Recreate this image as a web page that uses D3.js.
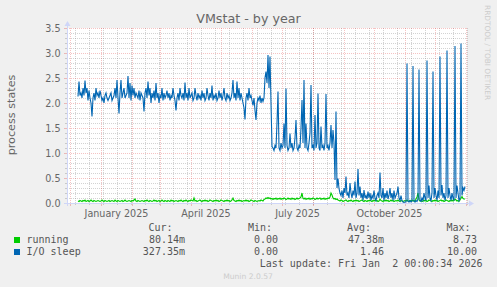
<!DOCTYPE html>
<html>
<head>
<meta charset="utf-8">
<script src="https://cdn.jsdelivr.net/npm/d3@7"></script>
<style>
body { margin: 0; background: #f0f0f0; }
svg { display: block; }
</style>
</head>
<body>
<svg width="497" height="287"></svg>
<script>
// daily values, first one on 9 Dec 2024
var firstDay = new Date(2024, 11, 9);

var ioSleep = [
  2.13, 2.43, 2.15, 2.20, 2.10, 2.30, 2.15, 2.45, 2.20, 2.30,
  2.05, 2.25, 2.10, 2.00, 1.73, 2.10, 2.20, 2.05, 2.30, 2.15,
  2.20, 2.10, 2.25, 2.15, 2.05, 2.10, 2.00, 2.15, 2.20, 2.10,
  2.05, 2.10, 2.15, 2.20, 2.05, 2.10, 2.15, 2.30, 2.10, 2.46,
  2.10, 1.79, 2.20, 2.46, 2.10, 2.20, 2.30, 2.10, 2.15, 2.20,
  2.54, 2.10, 2.40, 2.05, 2.35, 2.15, 2.30, 2.10, 2.20, 2.15,
  2.10, 2.25, 2.05, 2.20, 2.15, 2.10, 1.83, 2.20, 2.30, 2.10,
  2.43, 2.15, 2.30, 2.00, 2.20, 2.10, 2.25, 2.05, 2.40, 2.10,
  2.20, 2.00, 2.15, 2.10, 2.30, 2.05, 2.20, 2.10, 2.15, 2.25,
  2.10, 2.20, 2.05, 2.15, 2.10, 2.30, 2.15, 2.05, 1.85, 2.10,
  2.20, 2.05, 2.30, 2.15, 2.10, 2.20, 2.05, 2.41, 2.10, 2.20,
  2.05, 2.30, 2.10, 2.15, 2.20, 2.05, 2.10, 2.30, 2.15, 2.05,
  2.20, 2.10, 2.15, 2.05, 2.25, 2.10, 2.20, 2.05, 2.10, 2.30,
  2.15, 2.05, 2.20, 2.10, 2.35, 2.05, 2.15, 2.10, 2.20, 2.05,
  2.10, 2.25, 2.10, 2.20, 2.05, 2.15, 2.30, 2.10, 2.05, 2.20,
  2.10, 2.15, 2.05, 2.10, 2.20, 2.46, 2.10, 2.20, 2.05, 2.43,
  2.10, 2.30, 2.05, 2.20, 2.10, 2.00, 1.90, 1.67, 2.10, 2.20,
  2.05, 2.30, 2.10, 2.15, 2.05, 1.95, 2.10, 1.85, 1.66, 2.00,
  2.10, 2.05, 2.15, 2.00, 2.10, 2.03, 2.10, 2.50, 2.63, 2.40,
  2.96, 2.30, 2.93, 2.00, 1.13, 1.10, 1.05, 1.15, 1.10, 1.60,
  2.23, 1.10, 1.05, 1.20, 1.10, 1.15, 1.59, 1.10, 2.29, 1.15,
  1.05, 1.10, 1.39, 1.10, 1.20, 1.05, 1.10, 1.30, 1.66, 1.10,
  1.05, 1.15, 1.10, 1.50, 2.06, 1.20, 2.46, 1.10, 1.59, 1.10,
  1.05, 1.20, 1.40, 2.36, 1.10, 1.15, 1.05, 1.76, 1.10, 1.20,
  2.19, 1.10, 1.05, 1.53, 1.10, 1.15, 1.05, 1.20, 2.18, 1.10,
  1.15, 1.05, 1.20, 1.56, 1.10, 1.46, 1.20, 0.46, 1.83, 0.30,
  0.49, 0.29, 0.20, 0.15, 0.25, 0.10, 0.30, 0.20, 0.53, 0.15,
  0.20, 0.10, 0.40, 0.20, 0.10, 0.25, 0.15, 0.43, 0.10, 0.20,
  0.68, 0.15, 0.33, 0.10, 0.20, 0.05, 0.26, 0.10, 0.15, 0.08,
  0.23, 0.10, 0.20, 0.05, 0.15, 0.10, 0.25, 0.10, 0.05, 0.15,
  0.20, 0.10, 0.61, 0.15, 0.10, 0.30, 0.05, 0.20, 0.10, 0.25,
  0.08, 0.15, 0.30, 0.10, 0.20, 0.05, 0.25, 0.10, 0.15, 0.20,
  0.33, 0.10, 0.05, 0.15, 0.05, 0.02, 0.01, 0.02, 0.02, 2.79,
  0.03, 0.02, 0.05, 0.02, 0.04, 2.74, 0.03, 0.02, 0.05, 0.03,
  0.08, 2.67, 0.05, 0.03, 0.10, 0.05, 0.20, 0.10, 0.05, 2.85,
  0.10, 0.35, 0.10, 0.05, 0.20, 2.63, 0.10, 0.30, 0.15, 0.05,
  0.25, 0.10, 2.93, 0.15, 0.36, 0.10, 0.20, 0.05, 0.15, 3.05,
  0.10, 0.30, 0.15, 0.05, 0.20, 0.10, 0.05, 3.14, 0.10, 0.35,
  0.20, 0.05, 0.10, 3.19, 0.15, 0.30, 0.25, 0.33
];

var running = [
  0.04, 0.03, 0.05, 0.04, 0.03, 0.05, 0.04, 0.06, 0.03, 0.04,
  0.05, 0.03, 0.04, 0.06, 0.04, 0.03, 0.05, 0.04, 0.03, 0.04,
  0.05, 0.04, 0.03, 0.04, 0.06, 0.04, 0.03, 0.05, 0.04, 0.03,
  0.04, 0.05, 0.03, 0.04, 0.05, 0.04, 0.03, 0.06, 0.04, 0.03,
  0.05, 0.04, 0.03, 0.04, 0.05, 0.03, 0.04, 0.06, 0.04, 0.03,
  0.04, 0.05, 0.04, 0.03, 0.05, 0.04, 0.06, 0.08, 0.04, 0.03,
  0.05, 0.04, 0.03, 0.04, 0.05, 0.04, 0.03, 0.05, 0.04, 0.06,
  0.04, 0.03, 0.05, 0.04, 0.03, 0.04, 0.06, 0.04, 0.05, 0.03,
  0.04, 0.05, 0.03, 0.04, 0.06, 0.04, 0.03, 0.05, 0.04, 0.03,
  0.05, 0.04, 0.03, 0.06, 0.04, 0.05, 0.03, 0.04, 0.05, 0.04,
  0.03, 0.05, 0.04, 0.06, 0.04, 0.03, 0.05, 0.04, 0.06, 0.04,
  0.03, 0.05, 0.04, 0.06, 0.05, 0.04, 0.10, 0.04, 0.05, 0.03,
  0.04, 0.05, 0.06, 0.04, 0.03, 0.05, 0.04, 0.06, 0.04, 0.05,
  0.03, 0.04, 0.06, 0.05, 0.04, 0.03, 0.05, 0.04, 0.06, 0.04,
  0.05, 0.03, 0.04, 0.06, 0.05, 0.04, 0.03, 0.05, 0.04, 0.06,
  0.04, 0.05, 0.03, 0.04, 0.06, 0.10, 0.05, 0.04, 0.03, 0.05,
  0.04, 0.06, 0.04, 0.05, 0.03, 0.04, 0.05, 0.04, 0.06, 0.04,
  0.05, 0.03, 0.04, 0.06, 0.05, 0.04, 0.03, 0.05, 0.04, 0.03,
  0.04, 0.05, 0.04, 0.06, 0.05, 0.04, 0.07, 0.08, 0.10, 0.09,
  0.11, 0.09, 0.10, 0.08, 0.09, 0.07, 0.09, 0.08, 0.10, 0.07,
  0.09, 0.08, 0.10, 0.07, 0.09, 0.08, 0.10, 0.09, 0.07, 0.08,
  0.10, 0.08, 0.09, 0.07, 0.10, 0.08, 0.09, 0.07, 0.08, 0.10,
  0.08, 0.09, 0.10, 0.12, 0.20, 0.09, 0.08, 0.10, 0.07, 0.09,
  0.08, 0.10, 0.07, 0.09, 0.08, 0.10, 0.09, 0.07, 0.08, 0.10,
  0.08, 0.09, 0.10, 0.07, 0.09, 0.08, 0.10, 0.07, 0.09, 0.08,
  0.10, 0.09, 0.12, 0.20, 0.16, 0.10, 0.08, 0.09, 0.07, 0.08,
  0.06, 0.05, 0.04, 0.06, 0.05, 0.03, 0.04, 0.05, 0.06, 0.04,
  0.03, 0.05, 0.04, 0.06, 0.04, 0.03, 0.05, 0.04, 0.06, 0.04,
  0.05, 0.03, 0.04, 0.05, 0.06, 0.04, 0.03, 0.05, 0.04, 0.03,
  0.05, 0.04, 0.06, 0.04, 0.03, 0.05, 0.04, 0.06, 0.04, 0.05,
  0.03, 0.04, 0.08, 0.05, 0.04, 0.03, 0.05, 0.04, 0.06, 0.04,
  0.05, 0.03, 0.04, 0.06, 0.04, 0.05, 0.03, 0.04, 0.05, 0.04,
  0.06, 0.04, 0.03, 0.05, 0.04, 0.03, 0.04, 0.05, 0.04, 0.06,
  0.04, 0.03, 0.05, 0.04, 0.06, 0.04, 0.05, 0.03, 0.08, 0.12,
  0.20, 0.06, 0.04, 0.05, 0.03, 0.04, 0.06, 0.04, 0.05, 0.03,
  0.04, 0.06, 0.05, 0.04, 0.03, 0.05, 0.04, 0.06, 0.04, 0.05,
  0.03, 0.04, 0.05, 0.06, 0.04, 0.05, 0.03, 0.04, 0.06, 0.05,
  0.04, 0.03, 0.05, 0.04, 0.06, 0.04, 0.05, 0.08, 0.06, 0.04,
  0.05, 0.03, 0.06, 0.10, 0.13, 0.09, 0.08, 0.08
];

var yTicks = [0, 0.5, 1.0, 1.5, 2.0, 2.5, 3.0, 3.5];
var labelMonths = [new Date(2025, 0, 1), new Date(2025, 3, 1), new Date(2025, 6, 1), new Date(2025, 9, 1)];

var seriesNames = ["running", "I/O sleep"];
var seriesColors = ["#00cc00", "#0066b3"];
var curVals = ["80.14m", "327.35m"];
var minVals = ["0.00", "0.00"];
var avgVals = ["47.38m", "1.46"];
var maxVals = ["8.73", "10.00"];
var lastUpdate = "Last update: Fri Jan  2 00:00:34 2026";

var svg = d3.select("svg");
var plotL = 67, plotR = 467, plotT = 28, plotB = 203;

var x = d3.scaleTime()
  .domain([new Date(2024, 10, 28, 0, 0, 34), new Date(2026, 0, 2, 0, 0, 34)])
  .range([plotL, plotR]);
var y = d3.scaleLinear().domain([0, 3.5]).range([plotB, plotT]);

svg.append("rect").attr("width", 497).attr("height", 287).attr("fill", "#f0f0f0");
svg.append("rect").attr("x", plotL).attr("y", plotT).attr("width", plotR - plotL).attr("height", plotB - plotT).attr("fill", "#fff");

var grid = svg.append("g").attr("shape-rendering", "crispEdges");
var minorColor = "rgba(128,128,128,0.35)", majorColor = "rgba(220,40,40,0.28)";

// minor grid
d3.range(1, 36).filter(function(i) { return i % 5 != 0; }).forEach(function(i) {
  var yy = Math.round(y(i / 10)) + 0.5;
  grid.append("line").attr("x1", plotL).attr("x2", plotR).attr("y1", yy).attr("y2", yy)
    .attr("stroke", minorColor).attr("stroke-dasharray", "1,1");
  grid.append("line").attr("x1", plotL - 2).attr("x2", plotL).attr("y1", yy).attr("y2", yy).attr("stroke", minorColor);
});
d3.timeDay.range(new Date(2024, 11, 6), x.domain()[1], 14).forEach(function(d) {
  var xx = Math.round(x(d)) + 0.5;
  grid.append("line").attr("x1", xx).attr("x2", xx).attr("y1", plotT).attr("y2", plotB)
    .attr("stroke", minorColor).attr("stroke-dasharray", "1,1");
  grid.append("line").attr("x1", xx).attr("x2", xx).attr("y1", plotB).attr("y2", plotB + 2).attr("stroke", minorColor);
});

// major grid
yTicks.forEach(function(v) {
  var yy = Math.round(y(v)) + 0.5;
  grid.append("line").attr("x1", plotL).attr("x2", plotR).attr("y1", yy).attr("y2", yy)
    .attr("stroke", majorColor).attr("stroke-dasharray", "1,1");
  grid.append("line").attr("x1", plotL - 3).attr("x2", plotL).attr("y1", yy).attr("y2", yy).attr("stroke", majorColor);
});
d3.timeMonth.range(new Date(2024, 11, 1), x.domain()[1]).forEach(function(d) {
  var xx = Math.round(x(d)) + 0.5;
  grid.append("line").attr("x1", xx).attr("x2", xx).attr("y1", plotT).attr("y2", plotB)
    .attr("stroke", majorColor).attr("stroke-dasharray", "1,1");
  grid.append("line").attr("x1", xx).attr("x2", xx).attr("y1", plotB).attr("y2", plotB + 3).attr("stroke", majorColor);
});

// data
var line = d3.line()
  .x(function(d, i) { return x(d3.timeDay.offset(firstDay, i)); })
  .y(function(d) { return y(d); });

[running, ioSleep].forEach(function(vals, k) {
  svg.append("path").datum(vals).attr("d", line)
    .attr("fill", "none").attr("stroke", seriesColors[k]).attr("stroke-width", 1.1);
});

// axes with arrows
var axisColor = "#cfd6f8";
svg.append("line").attr("x1", plotL + 0.5).attr("x2", plotL + 0.5).attr("y1", plotB + 3).attr("y2", plotT - 3)
  .attr("stroke", axisColor).attr("shape-rendering", "crispEdges");
svg.append("line").attr("x1", plotL - 3).attr("x2", plotR + 3).attr("y1", plotB + 0.5).attr("y2", plotB + 0.5)
  .attr("stroke", axisColor).attr("shape-rendering", "crispEdges");
svg.append("path").attr("d", "M" + (plotL - 2.5) + "," + (plotT - 2) + "L" + (plotL + 3.5) + "," + (plotT - 2) + "L" + (plotL + 0.5) + "," + (plotT - 7) + "Z")
  .attr("fill", axisColor);
svg.append("path").attr("d", "M" + (plotR + 2) + "," + (plotB - 2.5) + "L" + (plotR + 2) + "," + (plotB + 3.5) + "L" + (plotR + 7) + "," + (plotB + 0.5) + "Z")
  .attr("fill", axisColor);

// text
var font = "DejaVu Sans, sans-serif", mono = "DejaVu Sans Mono, monospace";

svg.append("text").attr("x", 248.5).attr("y", 23).attr("text-anchor", "middle")
  .attr("font-family", font).attr("font-size", 12.7).attr("fill", "#666").text("VMstat - by year");

svg.append("text").attr("transform", "translate(15,115) rotate(-90)").attr("text-anchor", "middle")
  .attr("font-family", font).attr("font-size", 11.2).attr("fill", "#666").text("process states");

svg.append("text").attr("transform", "translate(484.5,5) rotate(90)")
  .attr("font-family", font).attr("font-size", 7.4).attr("fill", "#cccccc").text("RRDTOOL / TOBI OETIKER");

svg.selectAll(".ytick").data(yTicks).enter().append("text")
  .attr("x", 60.5).attr("y", function(d) { return y(d) + 3.5; }).attr("text-anchor", "end")
  .attr("font-family", font).attr("font-size", 9.6).attr("fill", "#666")
  .text(function(d) { return d.toFixed(1); });

var fmt = d3.timeFormat("%B %Y");
svg.selectAll(".xtick").data(labelMonths).enter().append("text")
  .attr("x", function(d) { return (x(d) + x(d3.timeMonth.offset(d, 1))) / 2; })
  .attr("y", 216.5).attr("text-anchor", "middle")
  .attr("font-family", font).attr("font-size", 9.6).attr("fill", "#666")
  .text(fmt);

// legend
var cols = [["Cur:", 172.5, curVals, 185], ["Min:", 272, minVals, 278], ["Avg:", 371, avgVals, 384], ["Max:", 470.5, maxVals, 477]];
var legend = svg.append("g").attr("font-family", mono).attr("font-size", 10).attr("fill", "#555");
cols.forEach(function(c) {
  legend.append("text").attr("x", c[1]).attr("y", 231).attr("text-anchor", "end").text(c[0]);
});
seriesNames.forEach(function(name, k) {
  var by = 243 + k * 12;
  legend.append("rect").attr("x", 14).attr("y", by - 6).attr("width", 6).attr("height", 6).attr("fill", seriesColors[k]);
  legend.append("text").attr("x", 26.5).attr("y", by).text(name);
  cols.forEach(function(c) {
    legend.append("text").attr("x", c[3]).attr("y", by).attr("text-anchor", "end").text(c[2][k]);
  });
});
legend.append("text").attr("x", 482.5).attr("y", 267).attr("text-anchor", "end")
  .attr("xml:space", "preserve").style("white-space", "pre").text(lastUpdate);

svg.append("text").attr("x", 248).attr("y", 279).attr("text-anchor", "middle")
  .attr("font-family", font).attr("font-size", 7.6).attr("fill", "#cccccc").text("Munin 2.0.57");
</script>
</body>
</html>
